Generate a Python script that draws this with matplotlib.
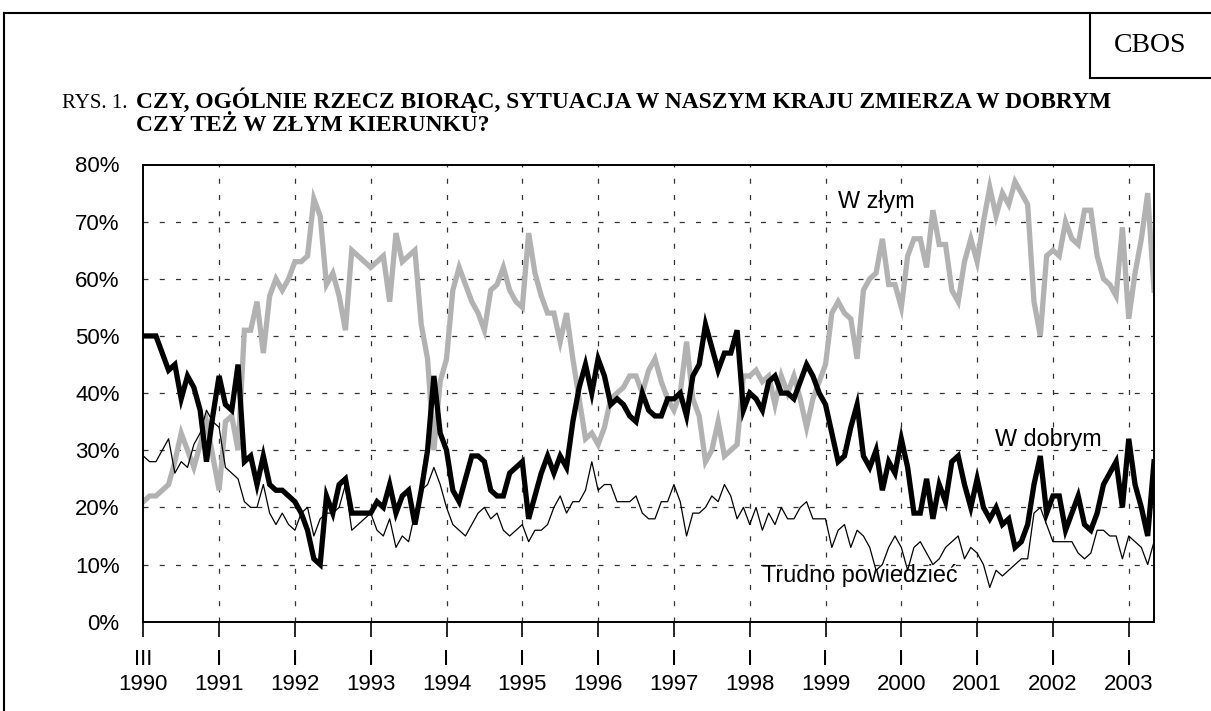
import matplotlib.pyplot as plt
import numpy as np
from matplotlib.lines import Line2D

# Monthly CBOS readings, March 1990 .. May 2003 (percent)
w_dobrym = [
    50, 50, 50, 47, 44, 45, 39, 43, 41, 37, 28, 36, 43, 38, 37, 45, 28, 29, 24, 29,
    24, 23, 23, 22, 21, 19, 16, 11, 10, 22, 19, 24, 25, 19, 19, 19, 19, 21, 20, 24,
    19, 22, 23, 17, 23, 30, 43, 33, 30, 23, 21, 25, 29, 29, 28, 23, 22, 22, 26, 27,
    28, 18, 22, 26, 29, 26, 29, 27, 35, 41, 45, 40, 46, 43, 38, 39, 38, 36, 35, 40,
    37, 36, 36, 39, 39, 40, 36, 43, 45, 52, 48, 44, 47, 47, 51, 37, 40, 39, 37, 42,
    43, 40, 40, 39, 42, 45, 43, 40, 38, 33, 28, 29, 34, 38, 29, 27, 30, 23, 28, 26,
    32, 27, 19, 19, 25, 18, 24, 21, 28, 29, 24, 20, 25, 20, 18, 20, 17, 18, 13, 14,
    17, 24, 29, 19, 22, 22, 16, 19, 22, 17, 16, 19, 24, 26, 28, 20, 32, 24, 20, 15,
    28,
]
w_zlym = [
    21, 22, 22, 23, 24, 28, 33, 30, 27, 31, 35, 29, 23, 35, 36, 30, 51, 51, 56, 47,
    57, 60, 58, 60, 63, 63, 64, 74, 71, 59, 61, 57, 51, 65, 64, 63, 62, 63, 64, 56,
    68, 63, 64, 65, 52, 46, 30, 42, 46, 58, 62, 59, 56, 54, 51, 58, 59, 62, 58, 56,
    55, 68, 61, 57, 54, 54, 49, 54, 46, 39, 32, 33, 31, 34, 39, 40, 41, 43, 43, 40,
    44, 46, 42, 39, 37, 40, 49, 39, 36, 28, 30, 35, 29, 30, 31, 43, 43, 44, 42, 43,
    38, 43, 40, 43, 39, 34, 39, 42, 45, 54, 56, 54, 53, 46, 58, 60, 61, 67, 59, 59,
    55, 64, 67, 67, 62, 72, 66, 66, 58, 56, 63, 67, 63, 70, 76, 71, 75, 73, 77, 75,
    73, 56, 50, 64, 65, 64, 70, 67, 66, 72, 72, 64, 60, 59, 57, 69, 53, 61, 67, 75,
    58,
]
trudno = [
    29, 28, 28, 30, 32, 26, 28, 27, 31, 33, 37, 35, 34, 27, 26, 25, 21, 20, 20, 24,
    19, 17, 19, 17, 16, 19, 20, 15, 18, 19, 19, 20, 24, 16, 17, 18, 19, 16, 15, 18,
    13, 15, 14, 19, 23, 24, 27, 24, 20, 17, 16, 15, 17, 19, 20, 18, 19, 16, 15, 16,
    17, 14, 16, 16, 17, 20, 22, 19, 21, 21, 23, 28, 23, 24, 24, 21, 21, 21, 22, 19,
    18, 18, 21, 21, 24, 21, 15, 19, 19, 20, 22, 21, 24, 22, 18, 20, 17, 20, 16, 19,
    17, 20, 18, 18, 20, 21, 18, 18, 18, 13, 16, 17, 13, 16, 15, 13, 9, 10, 13, 15,
    13, 9, 13, 14, 12, 10, 11, 13, 14, 15, 11, 13, 12, 10, 6, 9, 8, 9, 10, 11,
    11, 19, 20, 17, 14, 14, 14, 14, 12, 11, 12, 16, 16, 15, 15, 11, 15, 14, 13, 10,
    14,
]
years = list(range(1990, 2004))
year_months = ["III"] + ["I"] * (len(years) - 1)

W, H = 1211, 711
fig = plt.figure(figsize=(W / 100, H / 100), dpi=100)


def fx(px):
    return px / W


def fy(py):
    return 1 - py / H


ax = fig.add_axes([fx(143.3), fy(621.7), fx(1154) - fx(143.3), fy(164.5) - fy(621.7)])

x = np.arange(len(w_dobrym))
ax.plot(x, w_zlym, color="#b2b2b2", linewidth=3.8, solid_joinstyle="miter", zorder=3)
ax.plot(x, trudno, color="black", linewidth=0.9, zorder=4)
ax.plot(x, w_dobrym, color="black", linewidth=3.8, solid_joinstyle="miter", zorder=5)

ax.set_xlim(0, len(w_dobrym) - 1)
ax.set_ylim(0, 80)

tick_pos = [12 * k for k in range(len(years))]
ax.set_xticks(tick_pos)
ax.set_xticklabels([f"{m}\n{y}" for m, y in zip(year_months, years)],
                   fontfamily="Liberation Sans", fontsize=16, linespacing=1.25)
ax.set_yticks(range(0, 81, 10))
ax.set_yticklabels([f"{v}%" for v in range(0, 81, 10)],
                   fontfamily="Liberation Sans", fontsize=16)
ax.tick_params(axis="x", direction="out", length=11, width=1.2, pad=9)
ax.tick_params(axis="y", length=0, pad=17)

grid_style = dict(color="#333333", linewidth=0.9, linestyle=(0, (4, 9)), zorder=1)
for p in tick_pos[1:]:
    ax.axvline(p, **grid_style)
for v in range(10, 80, 10):
    ax.axhline(v, **grid_style)

for side in ax.spines.values():
    side.set_linewidth(1.4)
    side.set_zorder(6)

label_font = dict(fontfamily="Liberation Sans", fontsize=16.8, va="center")
ax.text(110, 73.6, "W złym", **label_font)
ax.text(134.8, 31.8, "W dobrym", **label_font)
ax.text(98, 8.0, "Trudno powiedzieć", **label_font)

# page frame and CBOS box
frame = dict(color="black", linewidth=1.5, transform=fig.transFigure)
fig.add_artist(Line2D([fx(4), fx(W)], [fy(13), fy(13)], **frame))
fig.add_artist(Line2D([fx(4), fx(4)], [fy(13), fy(H)], **frame))
fig.add_artist(Line2D([fx(1090), fx(1090)], [fy(13), fy(78)], **frame))
fig.add_artist(Line2D([fx(1090), fx(W)], [fy(78), fy(78)], **frame))
fig.text(fx(1150), fy(45), "CBOS", fontfamily="Liberation Serif", fontsize=20,
         ha="center", va="center")

fig.text(fx(62), fy(108), "RYS. 1.", fontfamily="Liberation Serif", fontsize=15,
         va="baseline")
title_font = dict(fontfamily="Liberation Serif", fontsize=16.9, fontweight="bold",
                  va="baseline")
fig.text(fx(136), fy(108),
         "CZY, OGÓLNIE RZECZ BIORĄC, SYTUACJA W NASZYM KRAJU ZMIERZA W DOBRYM",
         **title_font)
fig.text(fx(136), fy(131), "CZY TEŻ W ZŁYM KIERUNKU?", **title_font)

fig.savefig("out.png", dpi=100)
